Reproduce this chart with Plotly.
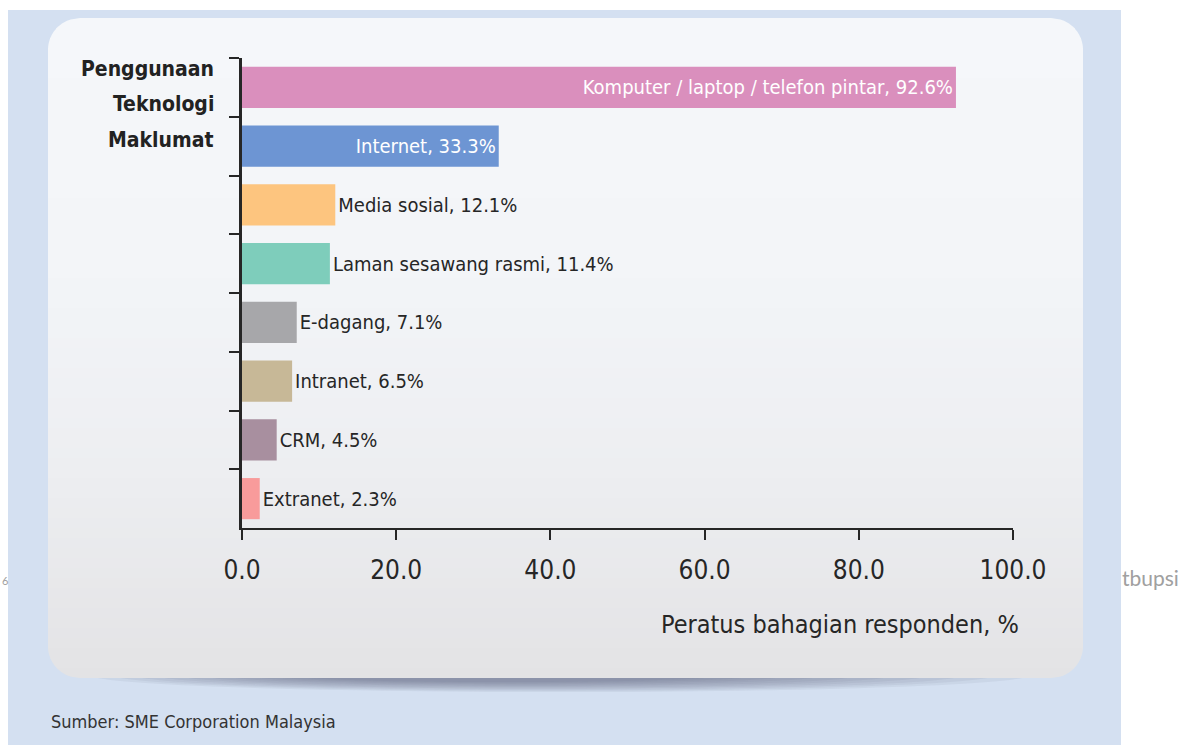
import math
import plotly.graph_objects as go

W, H = 1191, 745

# ---- data -------------------------------------------------------------
categories = [
    "Komputer / laptop / telefon pintar",
    "Internet",
    "Media sosial",
    "Laman sesawang rasmi",
    "E-dagang",
    "Intranet",
    "CRM",
    "Extranet",
]
values = [92.6, 33.3, 12.1, 11.4, 7.1, 6.5, 4.5, 2.3]
bar_colors = ["#da8fbd", "#6d95d3", "#fdc57f", "#7ecdbb",
              "#a7a7aa", "#c7b897", "#a88f9f", "#f89b9b"]
x_tick_values = [0, 20, 40, 60, 80, 100]
x_tick_labels = ["0.0", "20.0", "40.0", "60.0", "80.0", "100.0"]

title_lines = ["Penggunaan", "Teknologi", "Maklumat"]
axis_title = "Peratus bahagian responden, %"
source_note = "Sumber: SME Corporation Malaysia"

# ---- geometry (pixels) -------------------------------------------------
PLOT_L, PLOT_R, PLOT_T, PLOT_B = 242, 1013, 58, 528
BG_L, BG_R, BG_T = 8, 1121, 10
PAN_L, PAN_R, PAN_T, PAN_B, PAN_R_RAD = 48, 1083, 18, 678, 32

SANS = "DejaVu Sans Condensed, Liberation Sans Narrow, DejaVu Sans, sans-serif"
INK = "#262626"


def fx(x):
    return x / W


def fy(y):
    return 1 - y / H


def hex_rgb(h):
    h = h.lstrip("#")
    return tuple(int(h[i:i + 2], 16) for i in (0, 2, 4))


def lerp_color(stops, y):
    for (y0, c0), (y1, c1) in zip(stops, stops[1:]):
        if y0 <= y <= y1:
            t = (y - y0) / (y1 - y0)
            a, b = hex_rgb(c0), hex_rgb(c1)
            return "rgb(%d,%d,%d)" % tuple(round(a[i] + (b[i] - a[i]) * t) for i in range(3))
    return stops[-1][1] if y > stops[-1][0] else stops[0][1]


def panel_bounds(y):
    off = 0.0
    if y < PAN_T + PAN_R_RAD:
        d = PAN_T + PAN_R_RAD - y
        off = PAN_R_RAD - math.sqrt(max(PAN_R_RAD ** 2 - d * d, 0))
    elif y > PAN_B - PAN_R_RAD:
        d = y - (PAN_B - PAN_R_RAD)
        off = PAN_R_RAD - math.sqrt(max(PAN_R_RAD ** 2 - d * d, 0))
    return PAN_L + off, PAN_R - off


def strip_path(ya, yb, n=8):
    ys = [ya + (yb - ya) * i / n for i in range(n + 1)]
    left = [(panel_bounds(y)[0], y) for y in ys]
    right = [(panel_bounds(y)[1], y) for y in reversed(ys)]
    pts = left + right
    return "M " + " L ".join("%.5f,%.5f" % (fx(x), fy(y)) for x, y in pts) + " Z"


shapes = []

# page background band
shapes.append(dict(type="rect", xref="paper", yref="paper", layer="below",
                   x0=fx(BG_L), x1=fx(BG_R), y0=fy(H), y1=fy(BG_T),
                   fillcolor="#d4e0f1", line=dict(width=0)))

# soft shadow under the panel: stacked translucent ellipses
for k in range(10):
    half_w = 470 - k * 28
    half_h = 17 - k * 1.1
    cx = 560 - k * 6
    shapes.append(dict(type="circle", xref="paper", yref="paper", layer="below",
                       x0=fx(cx - half_w), x1=fx(cx + half_w),
                       y0=fy(PAN_B - 3 + half_h), y1=fy(PAN_B - 3 - half_h),
                       fillcolor="rgba(75,82,98,0.065)", line=dict(width=0)))

# panel with vertical gradient, built from horizontal slices
panel_stops = [(PAN_T, "#f5f7fa"), (260, "#f3f5f8"), (470, "#edeef1"), (PAN_B, "#e3e3e5")]
N = 66
step = (PAN_B - PAN_T) / N
for k in range(N):
    ya = PAN_T + k * step
    yb = min(PAN_B, ya + step + 1)
    shapes.append(dict(type="path", xref="paper", yref="paper", layer="below",
                       path=strip_path(ya, yb),
                       fillcolor=lerp_color(panel_stops, (ya + yb) / 2),
                       line=dict(width=0)))

# ---- bars --------------------------------------------------------------
labels = [f"{c}, {v}%" for c, v in zip(categories, values)]
positions = ["inside" if v > 20 else "outside" for v in values]
text_colors = ["#ffffff" if p == "inside" else INK for p in positions]

fig = go.Figure(go.Bar(
    x=values,
    y=categories,
    orientation="h",
    width=0.7,
    marker=dict(color=bar_colors, line=dict(width=0)),
    text=labels,
    textposition=positions,
    insidetextanchor="end",
    textangle=0,
    constraintext="none",
    cliponaxis=False,
    textfont=dict(family=SANS, size=20, color=text_colors),
    hoverinfo="skip",
))

annotations = []
title_y = [69, 104, 140]
for line, yy in zip(title_lines, title_y):
    annotations.append(dict(text="<b>%s</b>" % line, xref="paper", yref="paper",
                            x=fx(216), y=fy(yy), xanchor="right", yanchor="middle",
                            showarrow=False,
                            font=dict(family=SANS, size=21, color="#222222")))

annotations.append(dict(text=axis_title, xref="paper", yref="paper",
                        x=fx(1021), y=fy(624), xanchor="right", yanchor="middle",
                        showarrow=False, font=dict(family=SANS, size=25, color=INK)))

annotations.append(dict(text=source_note, xref="paper", yref="paper",
                        x=fx(49), y=fy(721), xanchor="left", yanchor="middle",
                        showarrow=False, font=dict(family=SANS, size=18, color="#333333")))

# faint page marks at the edges
annotations.append(dict(text="tbupsi", xref="paper", yref="paper",
                        x=fx(1120), y=fy(577), xanchor="left", yanchor="middle",
                        showarrow=False, font=dict(family="Lato, sans-serif", size=21, color="#a0a0a0")))
annotations.append(dict(text="6", xref="paper", yref="paper",
                        x=fx(0), y=fy(580), xanchor="left", yanchor="middle",
                        showarrow=False, font=dict(family="Lato, sans-serif", size=11, color="#a0a0a0")))

fig.update_layout(
    width=W, height=H, autosize=False,
    margin=dict(l=0, r=0, t=0, b=0, pad=0),
    paper_bgcolor="#ffffff",
    plot_bgcolor="rgba(0,0,0,0)",
    showlegend=False,
    shapes=shapes,
    annotations=annotations,
    bargap=0.3,
    xaxis=dict(
        domain=[fx(PLOT_L), fx(PLOT_R)],
        range=[0, 100],
        tickvals=x_tick_values,
        ticktext=x_tick_labels,
        ticks="outside", ticklen=10, tickwidth=2, tickcolor=INK,
        showline=True, linewidth=2, linecolor=INK,
        showgrid=False, zeroline=False, automargin=False,
        ticklabelstandoff=8,
        tickfont=dict(family=SANS, size=26, color=INK),
        fixedrange=True,
    ),
    yaxis=dict(
        domain=[fy(PLOT_B), fy(PLOT_T)],
        type="category",
        categoryorder="array", categoryarray=categories,
        range=[7.5, -0.5],
        tickson="boundaries",
        ticks="outside", ticklen=10, tickwidth=2, tickcolor=INK,
        showticklabels=False,
        showline=True, linewidth=2.5, linecolor=INK,
        showgrid=False, zeroline=False, automargin=False,
        fixedrange=True,
    ),
)

fig.write_html("out.html")
